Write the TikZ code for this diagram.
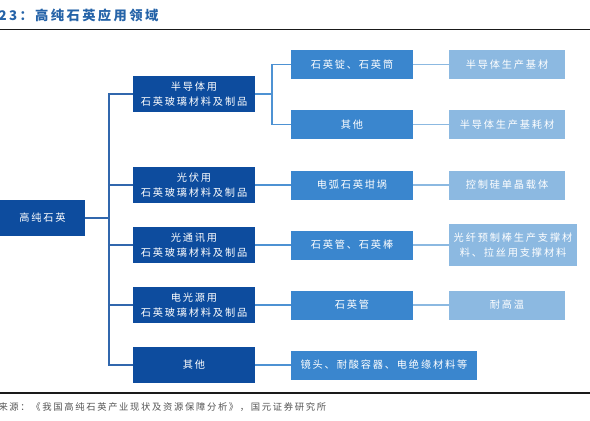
\documentclass[tikz,border=0pt]{standalone}
\usepackage{fontspec}
\setmainfont{Liberation Serif}
\newfontfamily\cjk[LetterSpace=18]{Noto Sans CJK SC}
\usetikzlibrary{positioning}
\definecolor{QzDark}{HTML}{0D4C9E}
\definecolor{QzMid}{HTML}{3A86CE}
\definecolor{QzLight}{HTML}{8CB9E1}
\definecolor{QzTitle}{HTML}{2563A8}
\definecolor{QzInk}{HTML}{1A1A1A}
\definecolor{QzGray}{HTML}{555555}

\begin{document}
\begin{tikzpicture}[x=1pt,y=-1pt,
  box/.style={inner sep=0pt,align=center,text=white,font=\cjk\fontsize{10.2}{14.5}\selectfont},
  rootbox/.style={box,fill=QzDark,minimum width=85pt,minimum height=36pt},
  usebox/.style={box,fill=QzDark,minimum width=122pt,minimum height=36pt},
  formbox/.style={box,fill=QzMid,minimum width=122pt,minimum height=29pt},
  endbox/.style={box,fill=QzLight,minimum width=116pt,minimum height=29pt},
  trunkline/.style={QzDark!85!white,line width=1.4pt},
  midline/.style={QzMid!90!white,line width=1.4pt},
  endline/.style={QzLight,line width=1.4pt}]
  \useasboundingbox (0,0) rectangle (590,421);
  % title and rules
  \node[anchor=west,text=QzTitle,font=\cjk\bfseries\fontsize{13.3}{15}\selectfont] (title) at (-5,15) {23：高纯石英应用领域};
  \draw[QzInk,line width=1.3pt] (0,29.5) -- (590,29.5);
  \draw[QzInk,line width=1.3pt] (0,393) -- (590,393);
  \node[anchor=west,text=QzGray,font=\cjk\fontsize{9.3}{10}\selectfont] (src) at (-5,407) {来源：《我国高纯石英产业现状及资源保障分析》，国元证券研究所};
  % root
  \node[rootbox] (root) at (42.5,218) {高纯石英};
  % uses
  \node[usebox] (semi)  at (194,94)  {半导体用\\石英玻璃材料及制品};
  \node[usebox] (pv)    at (194,185) {光伏用\\石英玻璃材料及制品};
  \node[usebox] (comm)  at (194,245) {光通讯用\\石英玻璃材料及制品};
  \node[usebox] (lamp)  at (194,305) {电光源用\\石英玻璃材料及制品};
  \node[usebox] (other) at (194,365) {其他};
  % forms
  \node[formbox] (ingot)     at (352,64.5)  {石英锭、石英筒};
  \node[formbox] (semiother) at (352,124.5) {其他};
  \node[formbox] (crucible)  at (352,185) {电弧石英坩埚};
  \node[formbox] (tuberod)   at (352,245) {石英管、石英棒};
  \node[formbox] (tube)      at (352,305) {石英管};
  \node[formbox,minimum width=186pt] (misc) at (384,365) {镜头、耐酸容器、电绝缘材料等};
  % ends
  \node[endbox] (base)    at (507,64.5)  {半导体生产基材};
  \node[endbox] (consum)  at (507,124.5) {半导体生产基耗材};
  \node[endbox] (carrier) at (507,185) {控制硅单晶载体};
  \node[endbox,minimum width=128pt,minimum height=42pt] (fiber) at (513,245) {光纤预制棒生产支撑材\\料、拉丝用支撑材料};
  \node[endbox] (heat)    at (507,305) {耐高温};
  % connectors
  \coordinate (trunk) at (109,218);
  \coordinate (fork) at (272,94);
  \draw[trunkline] (root.east) -- (trunk);
  \foreach \n in {semi,pv,comm,lamp,other}
    \draw[trunkline] (trunk) |- (\n.west);
  \draw[midline] (semi.east) -- (fork);
  \foreach \n in {ingot,semiother}
    \draw[midline] (fork) |- (\n.west);
  \draw[midline] (pv.east) -- (crucible.west);
  \draw[midline] (comm.east) -- (tuberod.west);
  \draw[midline] (lamp.east) -- (tube.west);
  \draw[midline] (other.east) -- (misc.west);
  \draw[endline] (ingot.east) -- (base.west);
  \draw[endline] (semiother.east) -- (consum.west);
  \draw[endline] (crucible.east) -- (carrier.west);
  \draw[endline] (tuberod.east) -- (fiber.west);
  \draw[endline] (tube.east) -- (heat.west);
\end{tikzpicture}
\end{document}
